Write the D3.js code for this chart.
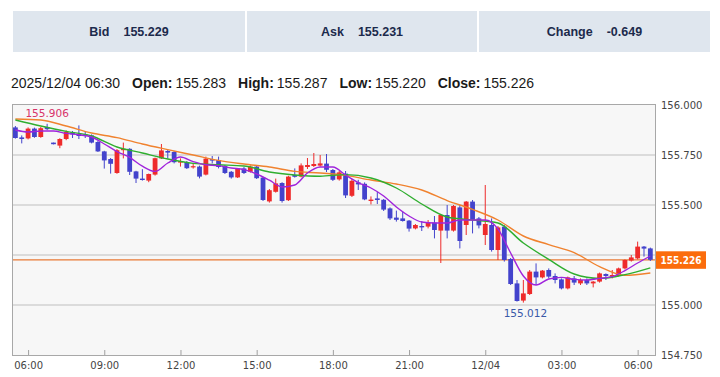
<!DOCTYPE html>
<html>
<head>
<meta charset="utf-8">
<script src="https://cdn.jsdelivr.net/npm/d3@7"></script>
<style>
    body { margin: 0; background: #fff; }
    svg { display: block; }
</style>
</head>
<body>
<div class="fx-chart"></div>
<script>
// quote panel
const quoteLabels = ['Bid', 'Ask', 'Change'];
const quoteValues = ['155.229', '155.231', '-0.649'];

// last bar summary
const lastBarTime = '2025/12/04 06:30';
const summaryLabels = ['Open:', 'High:', 'Low:', 'Close:'];
const summaryValues = ['155.283', '155.287', '155.220', '155.226'];

// 15 minute bars, first one at 2025/12/03 05:30
const firstBar = new Date(2025, 11, 3, 5, 30);
const barMinutes = 15;

const opens = [
    155.888, 155.838, 155.833, 155.882, 155.840, 155.890, 155.812, 155.797, 155.830, 155.863,
    155.855, 155.853, 155.848, 155.815, 155.768, 155.730, 155.660, 155.774, 155.781, 155.668,
    155.632, 155.622, 155.652, 155.733, 155.770, 155.765, 155.712, 155.715, 155.688, 155.692,
    155.652, 155.730, 155.725, 155.695, 155.666, 155.638, 155.683, 155.666, 155.692, 155.637,
    155.518, 155.566, 155.610, 155.524, 155.650, 155.642, 155.690, 155.695, 155.697, 155.707,
    155.675, 155.628, 155.657, 155.546, 155.613, 155.606, 155.520, 155.533, 155.526, 155.483,
    155.437, 155.433, 155.422, 155.383, 155.395, 155.392, 155.412, 155.372, 155.450, 155.372,
    155.488, 155.400, 155.517, 155.433, 155.350, 155.400, 155.275, 155.392, 155.230, 155.108,
    155.022, 155.055, 155.167, 155.138, 155.175, 155.145, 155.128, 155.083, 155.133, 155.108,
    155.125, 155.108, 155.117, 155.155, 155.142, 155.145, 155.183, 155.222, 155.233, 155.292,
    155.283
];
const highs = [
    155.895, 155.848, 155.888, 155.887, 155.890, 155.906, 155.812, 155.834, 155.873, 155.870,
    155.898, 155.866, 155.853, 155.820, 155.771, 155.735, 155.780, 155.812, 155.784, 155.671,
    155.679, 155.657, 155.737, 155.805, 155.775, 155.770, 155.733, 155.720, 155.708, 155.697,
    155.742, 155.745, 155.742, 155.700, 155.670, 155.685, 155.690, 155.698, 155.696, 155.641,
    155.580, 155.632, 155.614, 155.646, 155.683, 155.708, 155.735, 155.760, 155.750, 155.755,
    155.680, 155.670, 155.670, 155.630, 155.626, 155.613, 155.543, 155.565, 155.530, 155.488,
    155.472, 155.467, 155.425, 155.405, 155.420, 155.425, 155.445, 155.452, 155.500, 155.500,
    155.500, 155.520, 155.525, 155.440, 155.600, 155.433, 155.395, 155.400, 155.235, 155.125,
    155.125, 155.175, 155.208, 155.175, 155.183, 155.158, 155.133, 155.142, 155.145, 155.133,
    155.133, 155.120, 155.162, 155.158, 155.175, 155.187, 155.228, 155.250, 155.317, 155.295,
    155.287
];
const lows = [
    155.832, 155.808, 155.828, 155.836, 155.836, 155.874, 155.803, 155.784, 155.824, 155.835,
    155.830, 155.835, 155.808, 155.765, 155.682, 155.657, 155.656, 155.733, 155.650, 155.610,
    155.622, 155.614, 155.647, 155.730, 155.732, 155.708, 155.692, 155.680, 155.682, 155.633,
    155.648, 155.708, 155.683, 155.655, 155.632, 155.635, 155.655, 155.662, 155.630, 155.520,
    155.512, 155.562, 155.512, 155.520, 155.637, 155.638, 155.680, 155.690, 155.692, 155.665,
    155.620, 155.622, 155.535, 155.540, 155.575, 155.524, 155.503, 155.505, 155.470, 155.425,
    155.417, 155.417, 155.367, 155.378, 155.370, 155.383, 155.333, 155.210, 155.333, 155.367,
    155.283, 155.350, 155.358, 155.383, 155.300, 155.267, 155.225, 155.217, 155.100, 155.017,
    155.012, 155.050, 155.100, 155.133, 155.133, 155.108, 155.078, 155.078, 155.100, 155.100,
    155.100, 155.088, 155.112, 155.125, 155.133, 155.142, 155.178, 155.217, 155.228, 155.242,
    155.220
];
const closes = [
    155.835, 155.830, 155.882, 155.840, 155.884, 155.879, 155.804, 155.830, 155.865, 155.853,
    155.845, 155.845, 155.812, 155.768, 155.723, 155.706, 155.774, 155.781, 155.666, 155.632,
    155.625, 155.655, 155.734, 155.773, 155.762, 155.714, 155.720, 155.684, 155.694, 155.642,
    155.732, 155.722, 155.690, 155.660, 155.638, 155.682, 155.660, 155.692, 155.634, 155.525,
    155.574, 155.608, 155.520, 155.642, 155.641, 155.698, 155.700, 155.705, 155.708, 155.676,
    155.626, 155.663, 155.548, 155.621, 155.603, 155.528, 155.527, 155.525, 155.477, 155.433,
    155.426, 155.420, 155.382, 155.400, 155.388, 155.412, 155.375, 155.450, 155.372, 155.495,
    155.320, 155.517, 155.425, 155.398, 155.405, 155.275, 155.388, 155.225, 155.105, 155.020,
    155.058, 155.167, 155.138, 155.172, 155.142, 155.125, 155.083, 155.138, 155.112, 155.125,
    155.108, 155.117, 155.158, 155.145, 155.150, 155.183, 155.225, 155.238, 155.292, 155.282,
    155.226
];

// moving averages (purple every 2 bars, green / orange every 4 bars)
const maShort = [
    155.875, 155.865, 155.870, 155.870, 155.858, 155.851, 155.840, 155.805, 155.767, 155.738,
    155.694, 155.668, 155.710, 155.740, 155.717, 155.701, 155.697, 155.685, 155.677, 155.655,
    155.624, 155.590, 155.600, 155.660, 155.690, 155.690, 155.650, 155.612, 155.585, 155.545,
    155.490, 155.445, 155.415, 155.410, 155.410, 155.425, 155.425, 155.425, 155.380, 155.260,
    155.145, 155.100, 155.130, 155.138, 155.128, 155.125, 155.133, 155.142, 155.172, 155.210,
    155.245
];
const maMid = [
    155.925, 155.895, 155.868, 155.845, 155.790, 155.760, 155.730, 155.708, 155.701, 155.695,
    155.665, 155.650, 155.644, 155.652, 155.635, 155.585, 155.505, 155.440, 155.425, 155.410,
    155.310, 155.228, 155.155, 155.133, 155.152, 155.186
];
const maLong = [
    155.930, 155.925, 155.895, 155.860, 155.837, 155.805, 155.777, 155.750, 155.723, 155.705,
    155.690, 155.668, 155.660, 155.648, 155.625, 155.605, 155.575, 155.522, 155.478, 155.425,
    155.345, 155.302, 155.262, 155.192, 155.148, 155.160
];

// axes
const priceTicks = [154.75, 155.0, 155.25, 155.5, 155.75, 156.0];
const timeTicks = [
    new Date(2025, 11, 3, 6), new Date(2025, 11, 3, 9), new Date(2025, 11, 3, 12),
    new Date(2025, 11, 3, 15), new Date(2025, 11, 3, 18), new Date(2025, 11, 3, 21),
    new Date(2025, 11, 4, 0), new Date(2025, 11, 4, 3), new Date(2025, 11, 4, 6)
];

class CandleChart {
    constructor() {
        this.plot = { left: 12, right: 655, top: 104, bottom: 355 };
        this.colors = {
            up: '#ee2b2b',
            down: '#4343cc',
            maShort: '#a024dc',
            maMid: '#2fae2f',
            maLong: '#f0822e',
            last: '#fb6c0c',
        };
        this.lastClose = closes[closes.length - 1];

        this.svg = d3.select('.fx-chart')
            .append('svg')
            .attr('width', 720)
            .attr('height', 377);

        this.bars = opens.map((o, i) => ({
            time: d3.timeMinute.offset(firstBar, i * barMinutes),
            open: o,
            high: highs[i],
            low: lows[i],
            close: closes[i],
        }));

        this.drawQuotePanel();
        this.drawSummary();
        this.scaleX();
        this.scaleY();
        this.drawBackground();
        this.addXAxis();
        this.addYAxis();
        this.drawLastPriceLine();
        this.drawCandles();
        this.drawAverages();
        this.drawHighLow();
        this.drawLastPriceLabel();
    }

    drawQuotePanel() {
        const cellX = [13, 247, 479];
        const cellW = [232, 230, 231];
        const panel = this.svg.append('g').attr('class', 'quote-panel');
        quoteLabels.forEach((label, i) => {
            panel.append('rect')
                .attr('x', cellX[i])
                .attr('y', 11)
                .attr('width', cellW[i])
                .attr('height', 41)
                .attr('fill', '#dfe6ee');
            const t = panel.append('text')
                .attr('x', cellX[i] + cellW[i] / 2)
                .attr('y', 35.5)
                .attr('text-anchor', 'middle')
                .style('font', 'bold 12.5px "Liberation Sans", Arial, sans-serif')
                .style('fill', '#1c2a4c');
            t.append('tspan').text(label);
            t.append('tspan').attr('dx', 14).text(quoteValues[i]);
        });
    }

    drawSummary() {
        const t = this.svg.append('text')
            .attr('x', 11)
            .attr('y', 88)
            .style('font', '14px "Liberation Sans", Arial, sans-serif')
            .style('fill', '#1a1a1a');
        t.append('tspan').text(lastBarTime);
        summaryLabels.forEach((label, i) => {
            t.append('tspan').attr('dx', 12).style('font-weight', 'bold').text(label);
            t.append('tspan').attr('dx', 3).text(summaryValues[i]);
        });
    }

    scaleX() {
        const first = this.bars[0].time;
        const last = this.bars[this.bars.length - 1].time;
        this.x = d3.scaleTime()
            .domain([d3.timeMinute.offset(first, -8), d3.timeMinute.offset(last, 11)])
            .range([this.plot.left, this.plot.right]);
    }

    scaleY() {
        this.y = d3.scaleLinear()
            .domain([154.75, 156.0])
            .range([this.plot.bottom, this.plot.top + 1]);
    }

    drawBackground() {
        const p = this.plot;
        this.svg.append('rect')
            .attr('x', p.left + 0.5)
            .attr('y', p.top + 0.5)
            .attr('width', p.right - p.left)
            .attr('height', p.bottom - p.top)
            .attr('fill', '#f7f7f7')
            .attr('stroke', '#a8a8a8');

        this.svg.append('g')
            .attr('class', 'grid')
            .selectAll('line')
            .data(priceTicks.slice(1, -1))
            .enter()
            .append('line')
            .attr('x1', p.left + 1)
            .attr('x2', p.right)
            .attr('y1', (d) => this.y(d))
            .attr('y2', (d) => this.y(d))
            .attr('stroke', '#d2d2d2')
            .attr('stroke-width', 1.5);
    }

    addXAxis() {
        const fmt = (d) => (d.getHours() === 0 ? d3.timeFormat('%m/%d')(d) : d3.timeFormat('%H:%M')(d));
        const axis = this.svg.append('g')
            .attr('class', 'x-axis')
            .attr('transform', `translate(0,${this.plot.bottom})`)
            .call(d3.axisBottom(this.x)
                .tickValues(timeTicks)
                .tickFormat(fmt)
                .tickSize(-5)
                .tickPadding(7));
        axis.select('.domain').remove();
        axis.selectAll('line').attr('stroke', '#a0a0a0');
        axis.selectAll('text')
            .style('font', '10px "DejaVu Sans", Verdana, sans-serif')
            .style('fill', '#444');
    }

    addYAxis() {
        // the label that sits under the last price box is hidden, as in the original
        const visible = priceTicks.filter((d) => Math.abs(this.y(d) - this.y(this.lastClose)) > 12);
        const axis = this.svg.append('g')
            .attr('class', 'y-axis')
            .attr('transform', `translate(${this.plot.right},0)`)
            .call(d3.axisRight(this.y)
                .tickValues(visible)
                .tickFormat(d3.format('.3f'))
                .tickSize(0)
                .tickPadding(6));
        axis.select('.domain').remove();
        axis.selectAll('text')
            .style('font', '10px "DejaVu Sans", Verdana, sans-serif')
            .style('fill', '#444');
    }

    drawLastPriceLine() {
        this.svg.append('line')
            .attr('x1', this.plot.left + 1)
            .attr('x2', this.plot.right)
            .attr('y1', this.y(this.lastClose))
            .attr('y2', this.y(this.lastClose))
            .attr('stroke', '#e97a36')
            .attr('stroke-width', 1.3);
    }

    drawCandles() {
        const bodyW = 4.8;
        const g = this.svg.append('g').attr('class', 'candles');
        const color = (d) => (d.close >= d.open ? this.colors.up : this.colors.down);

        g.selectAll('.wick')
            .data(this.bars)
            .enter()
            .append('line')
            .attr('class', 'wick')
            .attr('x1', (d) => this.x(d.time))
            .attr('x2', (d) => this.x(d.time))
            .attr('y1', (d) => this.y(d.high))
            .attr('y2', (d) => this.y(d.low))
            .attr('stroke', color)
            .attr('stroke-width', 1);

        g.selectAll('.body')
            .data(this.bars)
            .enter()
            .append('rect')
            .attr('class', 'body')
            .attr('x', (d) => this.x(d.time) - bodyW / 2)
            .attr('y', (d) => this.y(Math.max(d.open, d.close)))
            .attr('width', bodyW)
            .attr('height', (d) => Math.max(1.2, Math.abs(this.y(d.open) - this.y(d.close))))
            .attr('fill', color);
    }

    drawAverages() {
        const series = [
            { values: maLong, step: 4, color: this.colors.maLong },
            { values: maMid, step: 4, color: this.colors.maMid },
            { values: maShort, step: 2, color: this.colors.maShort },
        ];
        series.forEach((s) => {
            const line = d3.line()
                .x((d, i) => this.x(this.bars[i * s.step].time))
                .y((d) => this.y(d))
                .curve(d3.curveMonotoneX);
            this.svg.append('path')
                .datum(s.values)
                .attr('d', line)
                .attr('fill', 'none')
                .attr('stroke', s.color)
                .attr('stroke-width', 1.4);
        });
    }

    drawHighLow() {
        const hiBar = this.bars[d3.maxIndex(this.bars, (d) => d.high)];
        const loBar = this.bars[d3.minIndex(this.bars, (d) => d.low)];
        const font = '10.5px "DejaVu Sans", Verdana, sans-serif';
        this.svg.append('text')
            .attr('x', this.x(hiBar.time))
            .attr('y', this.y(hiBar.high) - 7)
            .attr('text-anchor', 'middle')
            .style('font', font)
            .style('fill', '#d8336a')
            .text(d3.format('.3f')(hiBar.high));
        this.svg.append('text')
            .attr('x', this.x(loBar.time) + 2)
            .attr('y', this.y(loBar.low) + 14)
            .attr('text-anchor', 'middle')
            .style('font', font)
            .style('fill', '#3a59a8')
            .text(d3.format('.3f')(loBar.low));
    }

    drawLastPriceLabel() {
        const yy = this.y(this.lastClose);
        this.svg.append('rect')
            .attr('x', this.plot.right + 1)
            .attr('y', yy - 8.5)
            .attr('width', 50)
            .attr('height', 17.5)
            .attr('fill', this.colors.last);
        this.svg.append('text')
            .attr('x', this.plot.right + 26)
            .attr('y', yy + 4)
            .attr('text-anchor', 'middle')
            .style('font', 'bold 10px "DejaVu Sans", Verdana, sans-serif')
            .style('font-stretch', 'condensed')
            .style('fill', '#fff')
            .text(d3.format('.3f')(this.lastClose));
    }
}

new CandleChart();
</script>
</body>
</html>
